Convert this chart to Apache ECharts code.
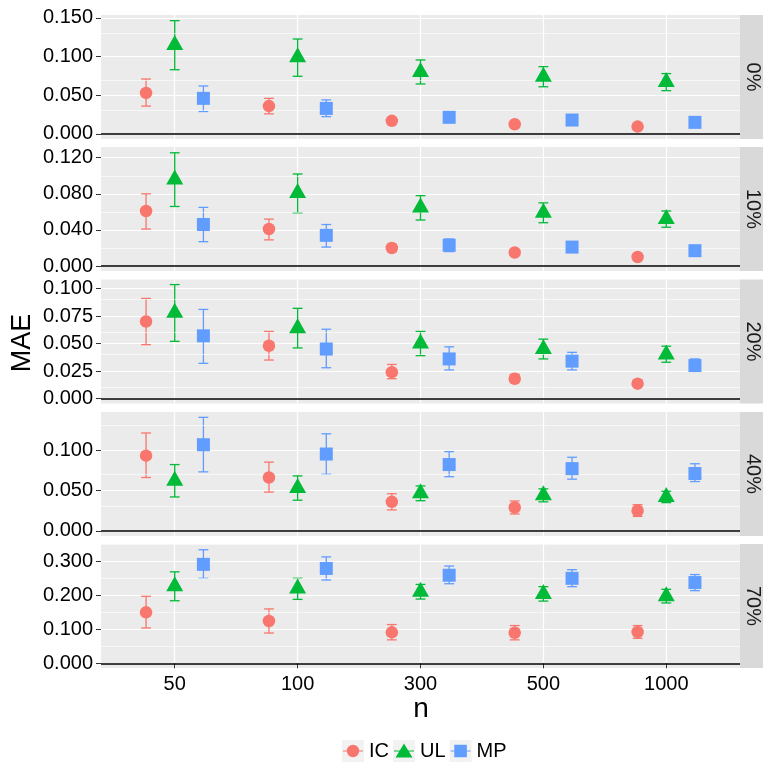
<!DOCTYPE html>
<html><head><meta charset="utf-8">
<script src="https://cdn.jsdelivr.net/npm/echarts@6/dist/echarts.min.js"></script>
<style>html,body{margin:0;padding:0;background:#fff}#c{width:763px;height:766px}</style>
</head><body><div id="c"></div>
<script>
// ---------------- data ----------------
const nLabels = ['50', '100', '300', '500', '1000'];
const panels = ['0%', '10%', '20%', '40%', '70%'];
const methods = ['IC', 'UL', 'MP'];

// rows = panels (0%,10%,20%,40%,70%), columns = n (50,100,300,500,1000)
const IC_mean = [
  [0.053, 0.036, 0.017, 0.0125, 0.0095],
  [0.061, 0.041, 0.020, 0.015, 0.010],
  [0.070, 0.048, 0.024, 0.018, 0.0135],
  [0.093, 0.066, 0.036, 0.029, 0.025],
  [0.150, 0.1245, 0.091, 0.090, 0.092]
];
const IC_lo = [
  [0.036, 0.026, 0.015, 0.011, 0.008],
  [0.041, 0.029, 0.016, 0.012, 0.008],
  [0.049, 0.035, 0.018, 0.015, 0.011],
  [0.066, 0.048, 0.026, 0.021, 0.018],
  [0.104, 0.089, 0.069, 0.069, 0.0735]
];
const IC_hi = [
  [0.071, 0.046, 0.019, 0.014, 0.011],
  [0.080, 0.052, 0.024, 0.018, 0.012],
  [0.091, 0.061, 0.031, 0.022, 0.016],
  [0.121, 0.085, 0.046, 0.037, 0.0325],
  [0.197, 0.160, 0.114, 0.111, 0.111]
];
const UL_mean = [
  [0.115, 0.099, 0.080, 0.074, 0.067],
  [0.096, 0.081, 0.065, 0.059, 0.052],
  [0.078, 0.064, 0.050, 0.045, 0.040],
  [0.062, 0.053, 0.0465, 0.044, 0.042],
  [0.227, 0.220, 0.2105, 0.204, 0.1975]
];
const UL_lo = [
  [0.083, 0.0745, 0.0646, 0.061, 0.056],
  [0.066, 0.059, 0.051, 0.048, 0.043],
  [0.052, 0.046, 0.039, 0.036, 0.033],
  [0.042, 0.038, 0.0374, 0.036, 0.035],
  [0.184, 0.188, 0.189, 0.183, 0.1775]
];
const UL_hi = [
  [0.1464, 0.1227, 0.0956, 0.087, 0.078],
  [0.1255, 0.102, 0.078, 0.070, 0.061],
  [0.1036, 0.082, 0.061, 0.054, 0.0476],
  [0.082, 0.068, 0.0556, 0.052, 0.049],
  [0.269, 0.250, 0.232, 0.2255, 0.2176]
];
const MP_mean = [
  [0.046, 0.033, 0.0215, 0.018, 0.015],
  [0.046, 0.034, 0.023, 0.021, 0.017],
  [0.057, 0.045, 0.036, 0.034, 0.030],
  [0.1065, 0.095, 0.082, 0.077, 0.071],
  [0.291, 0.279, 0.259, 0.250, 0.2375]
];
const MP_lo = [
  [0.029, 0.0224, 0.019, 0.0165, 0.0135],
  [0.027, 0.021, 0.016, 0.018, 0.015],
  [0.032, 0.028, 0.026, 0.026, 0.025],
  [0.073, 0.070, 0.067, 0.064, 0.061],
  [0.250, 0.245, 0.234, 0.2255, 0.2137]
];
const MP_hi = [
  [0.062, 0.044, 0.024, 0.0195, 0.0165],
  [0.065, 0.046, 0.030, 0.024, 0.019],
  [0.081, 0.063, 0.047, 0.042, 0.036],
  [0.1403, 0.120, 0.098, 0.091, 0.083],
  [0.334, 0.313, 0.286, 0.2755, 0.261]
];

// y-axis tick labels / limits per panel
const yTicks = [
  [0, 0.05, 0.10, 0.15],
  [0, 0.04, 0.08, 0.12],
  [0, 0.025, 0.05, 0.075, 0.10],
  [0, 0.05, 0.10],
  [0, 0.1, 0.2, 0.3]
];
const yMinor = [
  [0.025, 0.075, 0.125],
  [0.02, 0.06, 0.10],
  [0.0125, 0.0375, 0.0625, 0.0875],
  [0.025, 0.075, 0.125],
  [0.05, 0.15, 0.25, 0.35]
];
const yLimits = [
  [-0.0065, 0.1537],
  [-0.0055, 0.1319],
  [-0.0045, 0.1082],
  [-0.0062, 0.1469],
  [-0.0138, 0.3509]
];

// ---------------- styling / layout ----------------
const FONT = "'Liberation Sans', Arial, Helvetica, sans-serif";
const colors = ['#F8766D', '#00BA38', '#619CFF'];
const meanSets = [IC_mean, UL_mean, MP_mean];
const loSets = [IC_lo, UL_lo, MP_lo];
const hiSets = [IC_hi, UL_hi, MP_hi];
const dodge = [-0.2333, 0, 0.2333];
const symbols = ['circle', 'triangle', 'rect'];
const symSizes = [12.5, [17, 15], 13];
const symOffsets = [[0, 0], [0, -2.5], [0, 0]];
const PLOT_LEFT = 101, PLOT_W = 639, PANEL_H = 124;
const tops = [15, 147, 279.5, 412, 544];
const CAP_W = 0.08;

const grids = [], xAxes = [], yAxes = [], series = [], graphics = [];

panels.forEach((pName, p) => {
  grids.push({
    left: PLOT_LEFT, top: tops[p], width: PLOT_W, height: PANEL_H,
    show: true, backgroundColor: '#EBEBEB', borderWidth: 0
  });
  const last = p === panels.length - 1;
  xAxes.push({
    type: 'value', gridIndex: p, min: 0.4, max: 5.6,
    axisLine: { show: false },
    axisTick: { show: last, customValues: [1, 2, 3, 4, 5], length: 5, lineStyle: { color: '#333', width: 1 } },
    axisLabel: {
      show: last, customValues: [1, 2, 3, 4, 5],
      formatter: v => nLabels[Math.round(v) - 1],
      fontSize: 20, color: '#000', margin: 6, fontFamily: FONT
    },
    splitLine: { show: true, lineStyle: { color: '#FFFFFF', width: 1.2 } }
  });
  yAxes.push({
    type: 'value', gridIndex: p, min: yLimits[p][0], max: yLimits[p][1],
    axisLine: { show: false },
    axisTick: { show: true, customValues: yTicks[p], length: 5, lineStyle: { color: '#333', width: 1 } },
    axisLabel: {
      customValues: yTicks[p], formatter: v => v.toFixed(3),
      fontSize: 20, color: '#000', margin: 8, fontFamily: FONT
    },
    splitLine: { show: true, lineStyle: { color: '#FFFFFF', width: 1.2 } }
  });

  // scatter points
  methods.forEach((m, k) => {
    series.push({
      name: m, type: 'scatter', xAxisIndex: p, yAxisIndex: p,
      symbol: symbols[k], symbolSize: symSizes[k], symbolOffset: symOffsets[k],
      itemStyle: { color: colors[k], opacity: 1 },
      z: 5, silent: true,
      data: nLabels.map((_, i) => [i + 1 + dodge[k], meanSets[k][p][i]])
    });
  });
  // error bars
  methods.forEach((m, k) => {
    series.push({
      name: m, type: 'custom', xAxisIndex: p, yAxisIndex: p, z: 4, silent: true,
      encode: { x: 0, y: [1, 2] },
      data: nLabels.map((_, i) => [i + 1 + dodge[k], loSets[k][p][i], hiSets[k][p][i]]),
      renderItem: (params, api) => {
        const x = api.value(0);
        const a = api.coord([x, api.value(1)]);
        const b = api.coord([x, api.value(2)]);
        const half = api.size([CAP_W, 0])[0] / 2;
        const st = { stroke: colors[k], lineWidth: 1.3, fill: null };
        return {
          type: 'group', children: [
            { type: 'line', shape: { x1: a[0], y1: a[1], x2: b[0], y2: b[1] }, style: st },
            { type: 'line', shape: { x1: a[0] - half, y1: a[1], x2: a[0] + half, y2: a[1] }, style: st },
            { type: 'line', shape: { x1: b[0] - half, y1: b[1], x2: b[0] + half, y2: b[1] }, style: st }
          ]
        };
      }
    });
  });
  // minor grid lines
  series.push({
    name: 'minor' + p, type: 'scatter', xAxisIndex: p, yAxisIndex: p, data: [], z: 1, silent: true,
    markLine: {
      silent: true, symbol: ['none', 'none'], label: { show: false }, animation: false,
      lineStyle: { color: '#FFFFFF', width: 0.6, type: 'solid' },
      emphasis: { disabled: true },
      data: yMinor[p].map(v => ({ yAxis: v }))
    }
  });
  // zero reference line
  series.push({
    name: 'zero' + p, type: 'scatter', xAxisIndex: p, yAxisIndex: p, data: [], z: 3, silent: true,
    markLine: {
      silent: true, symbol: ['none', 'none'], label: { show: false }, animation: false,
      lineStyle: { color: '#000000', width: 1.7, type: 'solid' },
      emphasis: { disabled: true },
      data: [{ yAxis: 0 }]
    }
  });

  // strip
  graphics.push({
    type: 'rect', left: PLOT_LEFT + PLOT_W, top: tops[p], z: 0,
    shape: { width: 23, height: PANEL_H }, style: { fill: '#D9D9D9' }
  });
  graphics.push({
    type: 'text', x: 753, y: tops[p] + PANEL_H / 2, rotation: -Math.PI / 2, z: 10,
    style: {
      text: pName, fontSize: 20, fontFamily: FONT, fill: '#1A1A1A',
      align: 'center', verticalAlign: 'middle', textAlign: 'center', textVerticalAlign: 'middle'
    }
  });
});

// axis titles
graphics.push({
  type: 'text', x: 23, y: 343, rotation: Math.PI / 2, z: 10,
  style: { text: 'MAE', fontSize: 27, fontFamily: FONT, fill: '#000',
    align: 'center', verticalAlign: 'middle', textAlign: 'center', textVerticalAlign: 'middle' }
});
graphics.push({
  type: 'text', x: 421, y: 709, z: 10,
  style: { text: 'n', fontSize: 28, fontFamily: FONT, fill: '#000',
    align: 'center', verticalAlign: 'middle', textAlign: 'center', textVerticalAlign: 'middle' }
});
// legend key backgrounds
[342, 393, 449.6].forEach(x => {
  graphics.push({ type: 'rect', left: x, top: 740, z: 0, shape: { width: 22, height: 22 }, style: { fill: '#F2F2F2' } });
});

const corner = 'M0 0 M22 22 ';
const line = 'M1 10.4 L21 10.4 L21 11.6 L1 11.6 Z ';
const icons = [
  'path://' + corner + line + 'M4.8 11 A6.2 6.2 0 1 1 17.2 11 A6.2 6.2 0 1 1 4.8 11 Z',
  'path://' + corner + line + 'M11 3.5 L19.5 17.5 L2.5 17.5 Z',
  'path://' + corner + line + 'M4.7 4.7 L17.3 4.7 L17.3 17.3 L4.7 17.3 Z'
];

const chart = echarts.init(document.getElementById('c'), null, { renderer: 'canvas' });
chart.setOption({
  animation: false,
  backgroundColor: '#FFFFFF',
  grid: grids,
  xAxis: xAxes,
  yAxis: yAxes,
  legend: {
    left: 342, top: 740, padding: 0, itemGap: 4, itemWidth: 22, itemHeight: 22, selectedMode: false,
    textStyle: { fontSize: 20, color: '#000', fontFamily: FONT },
    data: methods.map((m, k) => ({ name: m, icon: icons[k] })),
    z: 10
  },
  graphic: { elements: graphics },
  series: series
});
</script>
</body></html>
